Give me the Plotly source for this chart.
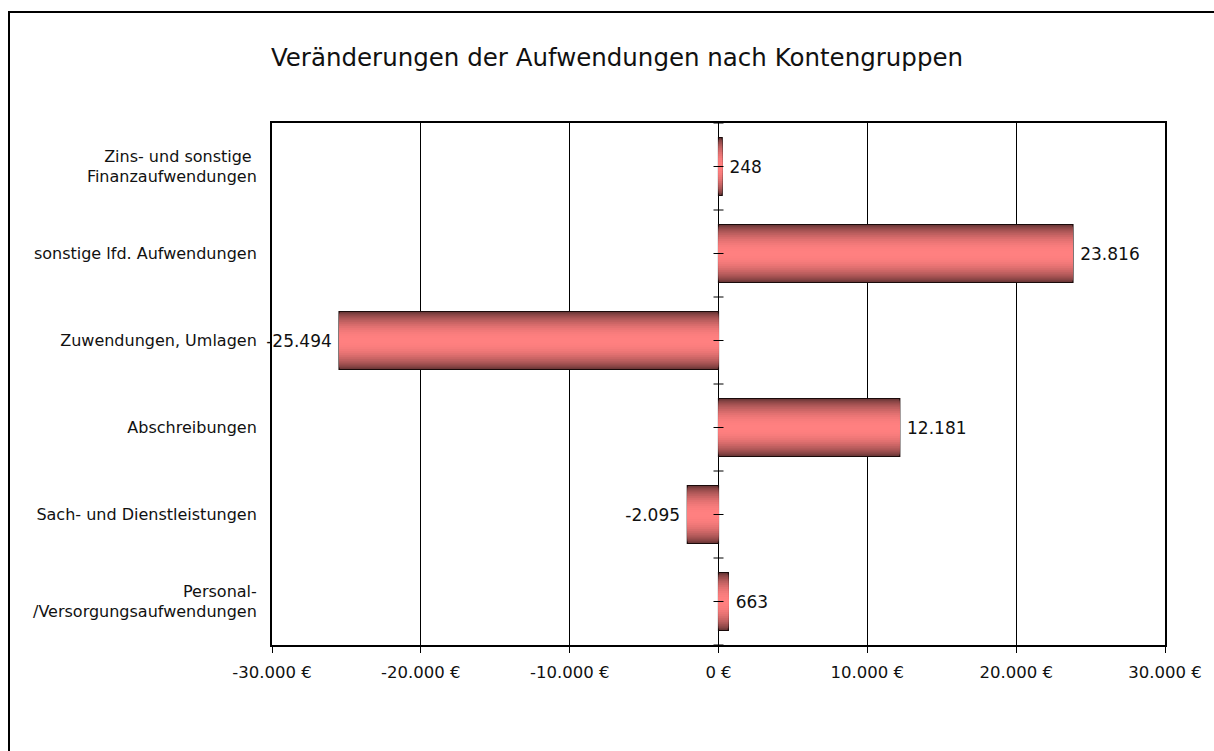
import numpy as np
import plotly.graph_objects as go

categories = [
    "Personal-<br>/Versorgungsaufwendungen",
    "Sach- und Dienstleistungen",
    "Abschreibungen",
    "Zuwendungen, Umlagen",
    "sonstige lfd. Aufwendungen",
    "Zins- und sonstige <br>Finanzaufwendungen",
]
values = [663, -2095, 12181, -25494, 23816, 248]
tick_vals = [-30000, -20000, -10000, 0, 10000, 20000, 30000]
tick_text = ["-30.000 €", "-20.000 €", "-10.000 €", "0 €", "10.000 €", "20.000 €", "30.000 €"]

FONT = "DejaVu Sans"
W, H = 1214, 751
L, R, T, B = 272, 49, 123, 106


def de_num(v):
    return f"{v:,}".replace(",", ".")


pad = "\u2005"
labels = [pad + de_num(v) if v >= 0 else de_num(v) + pad for v in values]
ypos = list(range(len(categories)))

fig = go.Figure()

# gradient bars: overlay layers, dark at the edges, light in the middle
n_layers = 14
bar_w = 0.667
dark = np.array([110, 56, 56])
light = np.array([255, 128, 128])
for i in range(n_layers):
    f = i / (n_layers - 1)
    w = bar_w * (1 - f) + 0.06 * f
    t = np.sin(f * np.pi / 2) ** 0.8
    c = dark + (light - dark) * t
    color = f"rgb({int(c[0])},{int(c[1])},{int(c[2])})"
    first = i == 0
    fig.add_trace(go.Bar(
        x=values,
        y=ypos,
        orientation="h",
        width=w,
        marker=dict(color=color,
                    line=dict(color="#1a0a0a" if first else color, width=1.2 if first else 0)),
        text=labels if first else None,
        textposition="outside" if first else "none",
        textfont=dict(family=FONT, size=17, color="#111"),
        cliponaxis=False,
        hoverinfo="skip",
        showlegend=False,
    ))

shapes = []
# zero axis (gray) with crossing ticks at category centres and boundaries
shapes.append(dict(type="line", xref="x", yref="paper", x0=0, x1=0, y0=0, y1=1,
                   line=dict(color="#808080", width=1), layer="below"))
tick_half = 5 / ((W - L - R) / 60000)
for k in range(len(categories) + 1):
    for yy in ([k - 0.5, k] if k < len(categories) else [k - 0.5]):
        shapes.append(dict(type="line", xref="x", yref="y",
                           x0=-tick_half, x1=tick_half, y0=yy, y1=yy,
                           line=dict(color="#000", width=1)))
# outer chart border (runs off the right/bottom edge like the original)
shapes.append(dict(type="rect", xref="paper", yref="paper",
                   x0=(9 - L) / (W - L - R), x1=(W + 20 - L) / (W - L - R),
                   y0=-(B + 20) / (H - T - B), y1=(H - B - 12) / (H - T - B),
                   line=dict(color="#000", width=2), fillcolor="rgba(0,0,0,0)"))

fig.update_layout(
    width=W, height=H,
    barmode="overlay",
    paper_bgcolor="white",
    plot_bgcolor="white",
    margin=dict(l=L, r=R, t=T, b=B),
    title=dict(text="Veränderungen der Aufwendungen nach Kontengruppen",
               x=617 / W, xref="container", xanchor="center",
               y=(H - 57) / H, yanchor="middle",
               font=dict(family=FONT, size=24.5, color="#111")),
    font=dict(family=FONT, size=15, color="#111"),
    xaxis=dict(range=[-30000, 30000], tickvals=tick_vals, ticktext=tick_text,
               showgrid=True, gridcolor="#000", gridwidth=1, zeroline=False,
               showline=True, linecolor="#000", linewidth=2, mirror=True,
               ticks="outside", ticklen=6, tickcolor="#000", tickwidth=1,
               ticklabelstandoff=5,
               tickfont=dict(family=FONT, size=16.5, color="#111")),
    yaxis=dict(range=[-0.5, len(categories) - 0.5], tickvals=ypos, ticktext=categories,
               showgrid=False, zeroline=False,
               showline=True, linecolor="#000", linewidth=2, mirror=True,
               ticks="", ticklabelstandoff=10,
               tickfont=dict(family=FONT, size=16, color="#111")),
    shapes=shapes,
)

fig.write_html("out.html", config={"displayModeBar": False},
               post_script="document.body.style.margin='0';")
